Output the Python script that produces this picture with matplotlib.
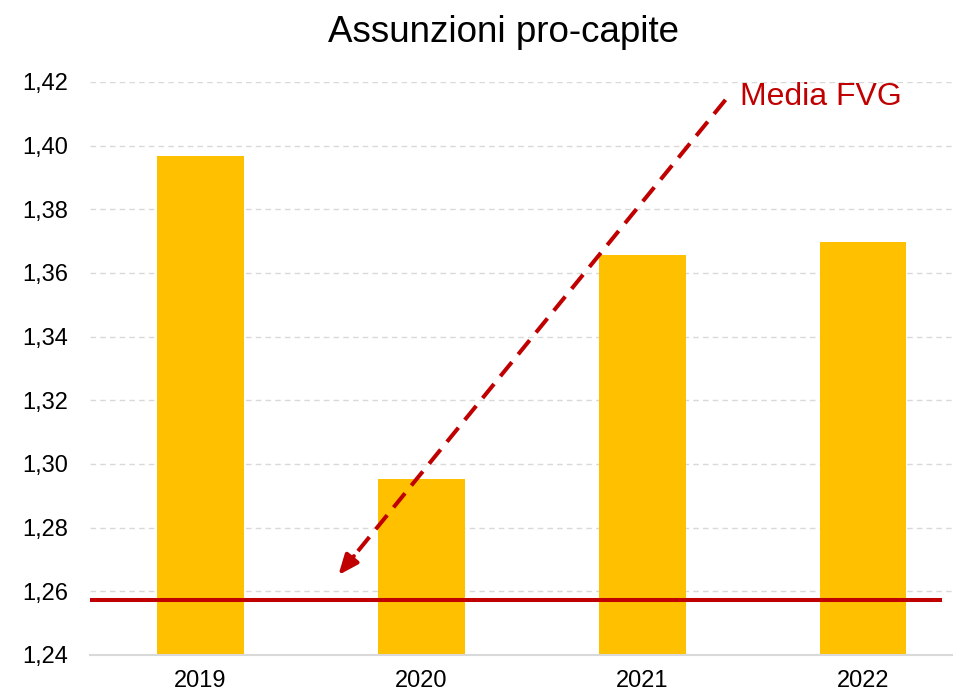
import matplotlib.pyplot as plt

years = ['2019', '2020', '2021', '2022']
values = [1.3968, 1.2953, 1.3655, 1.3698]
media_fvg = 1.2573
y_ticks = [1.24, 1.26, 1.28, 1.30, 1.32, 1.34, 1.36, 1.38, 1.40, 1.42]
arrow_tail = (2.376, 1.4144)
arrow_tip = (0.624, 1.2651)
label_pos = (2.443, 1.4128)

plt.rcParams['font.family'] = ['Liberation Sans', 'DejaVu Sans']

fig = plt.figure(figsize=(9.54, 6.94), dpi=100)
ax = fig.add_axes([90 / 954, 39 / 694, (954 - 90) / 954, 573 / 694])

x = list(range(len(years)))
ax.bar(x, values, width=0.39, color='#FFC000', zorder=2)
ax.axhline(media_fvg, xmin=0, xmax=(940 - 90) / (954 - 90), color='#C00000',
           linewidth=2.9, zorder=3)

# dashed arrow: body as a line, head as a small solid arrow
base = (arrow_tip[0] + 0.04 * (arrow_tail[0] - arrow_tip[0]),
        arrow_tip[1] + 0.04 * (arrow_tail[1] - arrow_tip[1]))
ax.plot([arrow_tail[0], base[0]], [arrow_tail[1], base[1]], color='#C00000',
        linewidth=2.9, dashes=(4.5, 2.5), zorder=4, clip_on=False)
ax.annotate('', xy=arrow_tip, xytext=base,
            arrowprops=dict(arrowstyle='-|>,head_length=1.2,head_width=0.5',
                            color='#C00000', linewidth=2.9, shrinkA=0, shrinkB=0),
            zorder=4)
ax.text(label_pos[0], label_pos[1], 'Media FVG', color='#C00000', fontsize=23,
        ha='left', va='baseline')

ax.set_xlim(-0.5, 3.41)
ax.set_ylim(1.24, 1.42)
ax.set_yticks(y_ticks)
ax.set_yticklabels(['{:.2f}'.format(v).replace('.', ',') for v in y_ticks])
ax.set_xticks(x)
ax.set_xticklabels(years)
ax.tick_params(axis='y', length=0, pad=16, labelsize=17)
ax.tick_params(axis='x', length=0, pad=11, labelsize=17)
ax.grid(axis='y', color='#D9D9D9', linestyle=(0, (4, 3)), linewidth=1, zorder=0)
for s in ['top', 'right', 'left']:
    ax.spines[s].set_visible(False)
ax.spines['bottom'].set_color('#D9D9D9')
ax.spines['bottom'].set_linewidth(1.5)

fig.text(504 / 954, 1 - 42 / 694, 'Assunzioni pro-capite', fontsize=26.5,
         ha='center', va='baseline')

fig.savefig('out.png', dpi=100)
